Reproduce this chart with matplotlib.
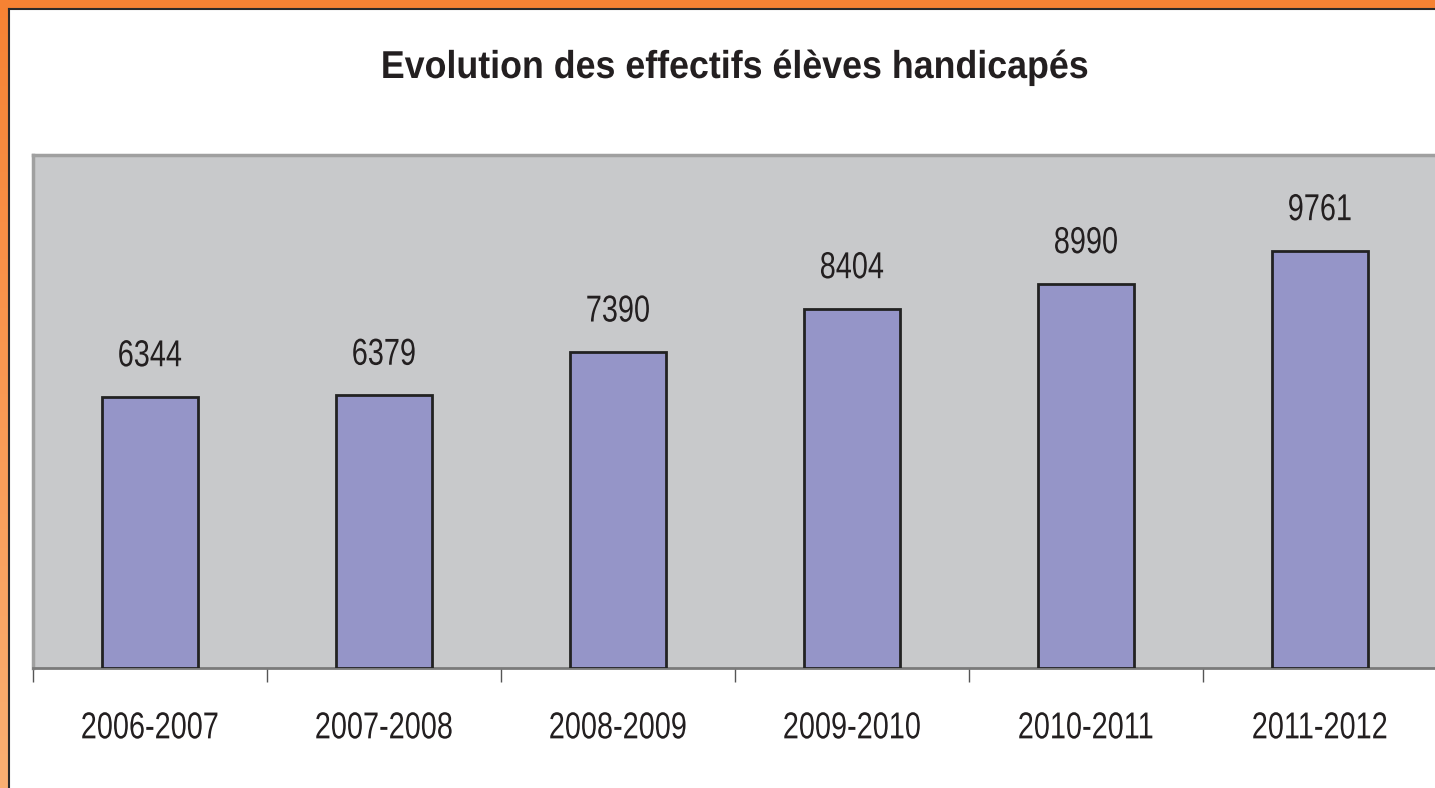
import numpy as np
import matplotlib.pyplot as plt
from matplotlib.patches import Rectangle
from matplotlib.lines import Line2D
from matplotlib.patheffects import AbstractPathEffect
from matplotlib.transforms import Affine2D

annees = ["2006-2007", "2007-2008", "2008-2009", "2009-2010", "2010-2011", "2011-2012"]
effectifs = [6344, 6379, 7390, 8404, 8990, 9761]

police = ["Liberation Sans", "DejaVu Sans"]


class Etroit(AbstractPathEffect):
    # resserre le texte horizontalement autour de son centre (police condensée)
    def __init__(self, sx):
        super().__init__()
        self.sx = sx

    def draw_path(self, renderer, gc, tpath, affine, rgbFace=None):
        pts = affine.transform(tpath.vertices)
        cx = (pts[:, 0].min() + pts[:, 0].max()) / 2
        t = affine + Affine2D().translate(-cx, 0).scale(self.sx, 1).translate(cx, 0)
        renderer.draw_path(gc, tpath, t, rgbFace)


W, H = 1435, 788
fig = plt.figure(figsize=(W / 100, H / 100), dpi=100)

# fond orange en dégradé (bord gauche et haut)
bg = fig.add_axes([0, 0, 1, 1])
bg.set_axis_off()
grad = np.linspace(0, 1, 256).reshape(-1, 1)
c1 = np.array([0.965, 0.510, 0.200])
c2 = np.array([0.980, 0.690, 0.450])
img = c1 + grad * (c2 - c1)
bg.imshow(img.reshape(256, 1, 3), aspect="auto", extent=[0, 1, 0, 1], origin="upper")
bg.set_xlim(0, 1)
bg.set_ylim(0, 1)
bx, by = 9 / W, 1 - 9 / H
bg.add_patch(Rectangle((bx, 0), 1 - bx, by, facecolor="white", edgecolor="none"))
bg.add_line(Line2D([bx, bx], [0, by], color="#2a2a2a", lw=1.5))
bg.add_line(Line2D([bx, 1], [by, by], color="#2a2a2a", lw=1.5))

# titre
fig.text(735 / W, 1 - 78 / H, "Evolution des effectifs élèves handicapés",
         ha="center", va="baseline", fontsize=28, fontweight="bold",
         family=police, color="#231f20", path_effects=[Etroit(0.92)])

ax = fig.add_axes([33 / W, 1 - 668 / H, (1437 - 33) / W, (668 - 155) / H])
ax.set_facecolor("#c8c9cb")
x = np.arange(len(annees))
bars = ax.bar(x, effectifs, width=0.41, color="#9595c8", edgecolor="#222222", linewidth=2, zorder=3)
ax.set_xlim(-0.5, len(annees) - 0.5)
ax.set_ylim(0, 12000)

for b, v in zip(bars, effectifs):
    ax.annotate(str(v), (b.get_x() + b.get_width() / 2, v), xytext=(0, 22),
                textcoords="offset points", ha="center", va="baseline",
                fontsize=27, family=police, color="#231f20",
                path_effects=[Etroit(0.77)])

ax.set_yticks([])
ax.set_xticks(np.arange(len(annees) + 1) - 0.5, minor=False)
ax.set_xticklabels([])
ax.tick_params(axis="x", length=10, width=1, color="#555555", direction="out")
ax.set_xticks(x, minor=True)
ax.set_xticklabels(annees, minor=True, fontsize=27, family=police, color="#231f20")
for t in ax.get_xticklabels(minor=True):
    t.set_path_effects([Etroit(0.77)])
ax.tick_params(axis="x", which="minor", length=0, pad=30.5)

ax.spines["top"].set_color("#a0a0a0")
ax.spines["top"].set_linewidth(2.5)
ax.spines["left"].set_color("#a0a0a0")
ax.spines["left"].set_linewidth(2.5)
ax.spines["right"].set_visible(False)
ax.spines["bottom"].set_color("#7a7a7a")
ax.spines["bottom"].set_linewidth(2)

fig.savefig("out.png", dpi=100)
